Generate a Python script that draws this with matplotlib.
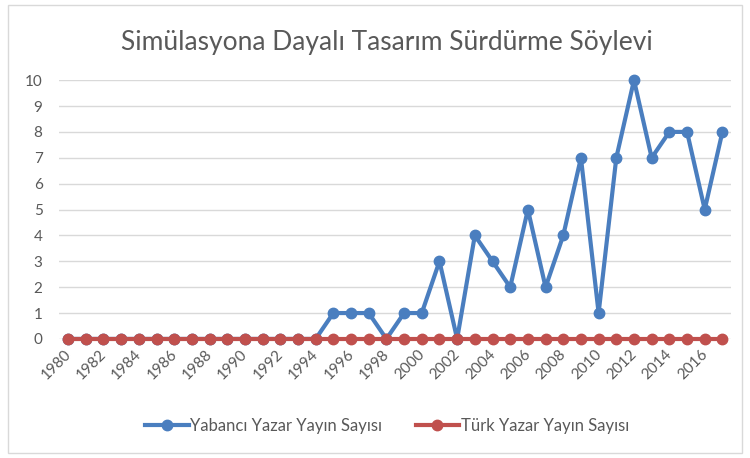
import matplotlib.pyplot as plt
from matplotlib.patches import Rectangle

plt.rcParams['font.family'] = ['Lato', 'DejaVu Sans']

years = list(range(1980, 2018))
yabanci = [0, 0, 0, 0, 0, 0, 0, 0, 0, 0, 0, 0, 0, 0, 0,
           1, 1, 1, 0, 1, 1, 3, 0, 4, 3, 2, 5, 2, 4, 7,
           1, 7, 10, 7, 8, 8, 5, 8]
turk = [0] * len(years)
tick_years = list(range(1980, 2017, 2))

fig = plt.figure(figsize=(7.5, 4.58), dpi=100)
fig.patches.append(Rectangle((0.011, 0.011), 0.978, 0.978, transform=fig.transFigure,
                             fill=False, edgecolor='#d9d9d9', linewidth=1.0))

ax = fig.add_axes([0.079, 0.26, 0.896, 0.565])
ax.plot(years, yabanci, color='#4A7EBF', linewidth=3.0, marker='o', markersize=7.5,
        label='Yabancı Yazar Yayın Sayısı', zorder=3, clip_on=False)
ax.plot(years, turk, color='#C0504D', linewidth=3.0, marker='o', markersize=7.5,
        label='Türk Yazar Yayın Sayısı', zorder=4, clip_on=False)

ax.set_xlim(1979.5, 2017.5)
ax.set_ylim(0, 10)
ax.set_yticks(range(0, 11))
ax.set_xticks(tick_years)
ax.set_xticklabels([])
# rotated year labels, placed just below the zero line
for y in tick_years:
    ax.annotate(str(y), xy=(y, 0), xycoords=('data', 'axes fraction'),
                xytext=(4, -6), textcoords='offset points', rotation=45,
                ha='right', va='top', fontsize=11, color='#595959')
ax.tick_params(axis='both', length=0, labelsize=11, colors='#595959')
ax.tick_params(axis='y', pad=12)
ax.grid(axis='y', color='#d9d9d9', linewidth=1.0)
ax.set_axisbelow(True)
for s in ax.spines.values():
    s.set_visible(False)

fig.text(0.516, 0.908, 'Simülasyona Dayalı Tasarım Sürdürme Söylevi',
         ha='center', va='center', fontsize=19, color='#595959')

ax.legend(loc='center', bbox_to_anchor=(0.516, 0.07), bbox_transform=fig.transFigure,
          frameon=False, ncol=2, fontsize=12, labelcolor='#595959',
          handlelength=2.6, columnspacing=2.0, handletextpad=0.1)

fig.savefig('out.png', dpi=100)
